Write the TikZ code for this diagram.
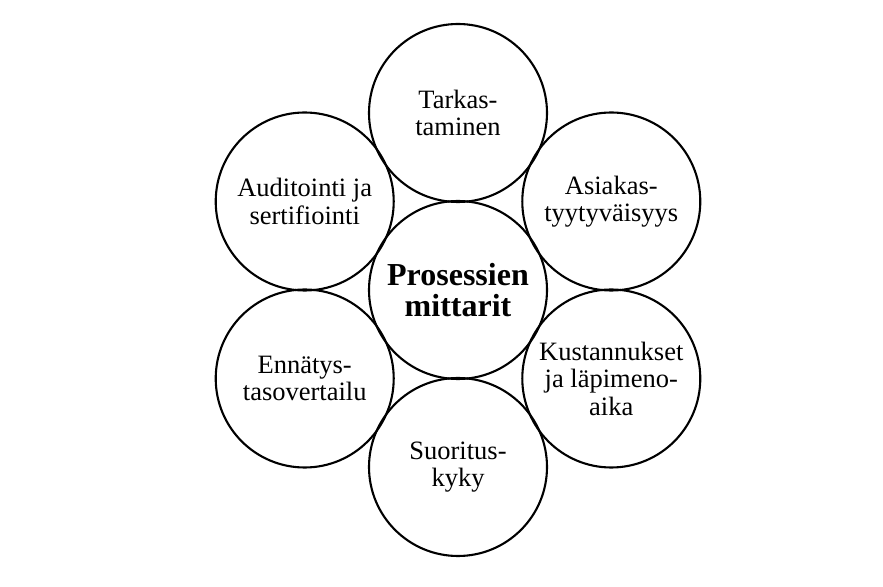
\documentclass[tikz,border=0pt]{standalone}
\usepackage{fontspec}
\setmainfont{Liberation Serif}
\usepackage{tikz}
\usetikzlibrary{shapes.geometric}
\tikzset{
  pmnode/.style={
    draw, circle, line width=2.1pt, minimum size=178pt, inner sep=0pt,
    align=center, font=\fontsize{26.5}{27.5}\selectfont
  },
  pmcentre/.style={pmnode, font=\fontsize{32}{31}\selectfont\bfseries}
}

\begin{document}
\begin{tikzpicture}[x=1pt, y=1pt]
  \useasboundingbox (0,0) rectangle (883,586);
  \node[pmcentre] (mitt) at (458,296) {Prosessien\\mittarit};
  \node[pmnode] (tark) at ([shift={(90:177)}]mitt.center) {Tarkas-\\taminen};
  \node[pmnode] (asia) at ([shift={(30:177)}]mitt.center) {Asiakas-\\tyytyväisyys};
  \node[pmnode] (kust) at ([shift={(-30:177)}]mitt.center) {Kustannukset\\ja läpimeno-\\aika};
  \node[pmnode] (suor) at ([shift={(-90:177)}]mitt.center) {Suoritus-\\kyky};
  \node[pmnode] (ennat) at ([shift={(210:177)}]mitt.center) {Ennätys-\\tasovertailu};
  \node[pmnode] (audit) at ([shift={(150:177)}]mitt.center) {Auditointi ja\\sertifiointi};
\end{tikzpicture}
\end{document}
